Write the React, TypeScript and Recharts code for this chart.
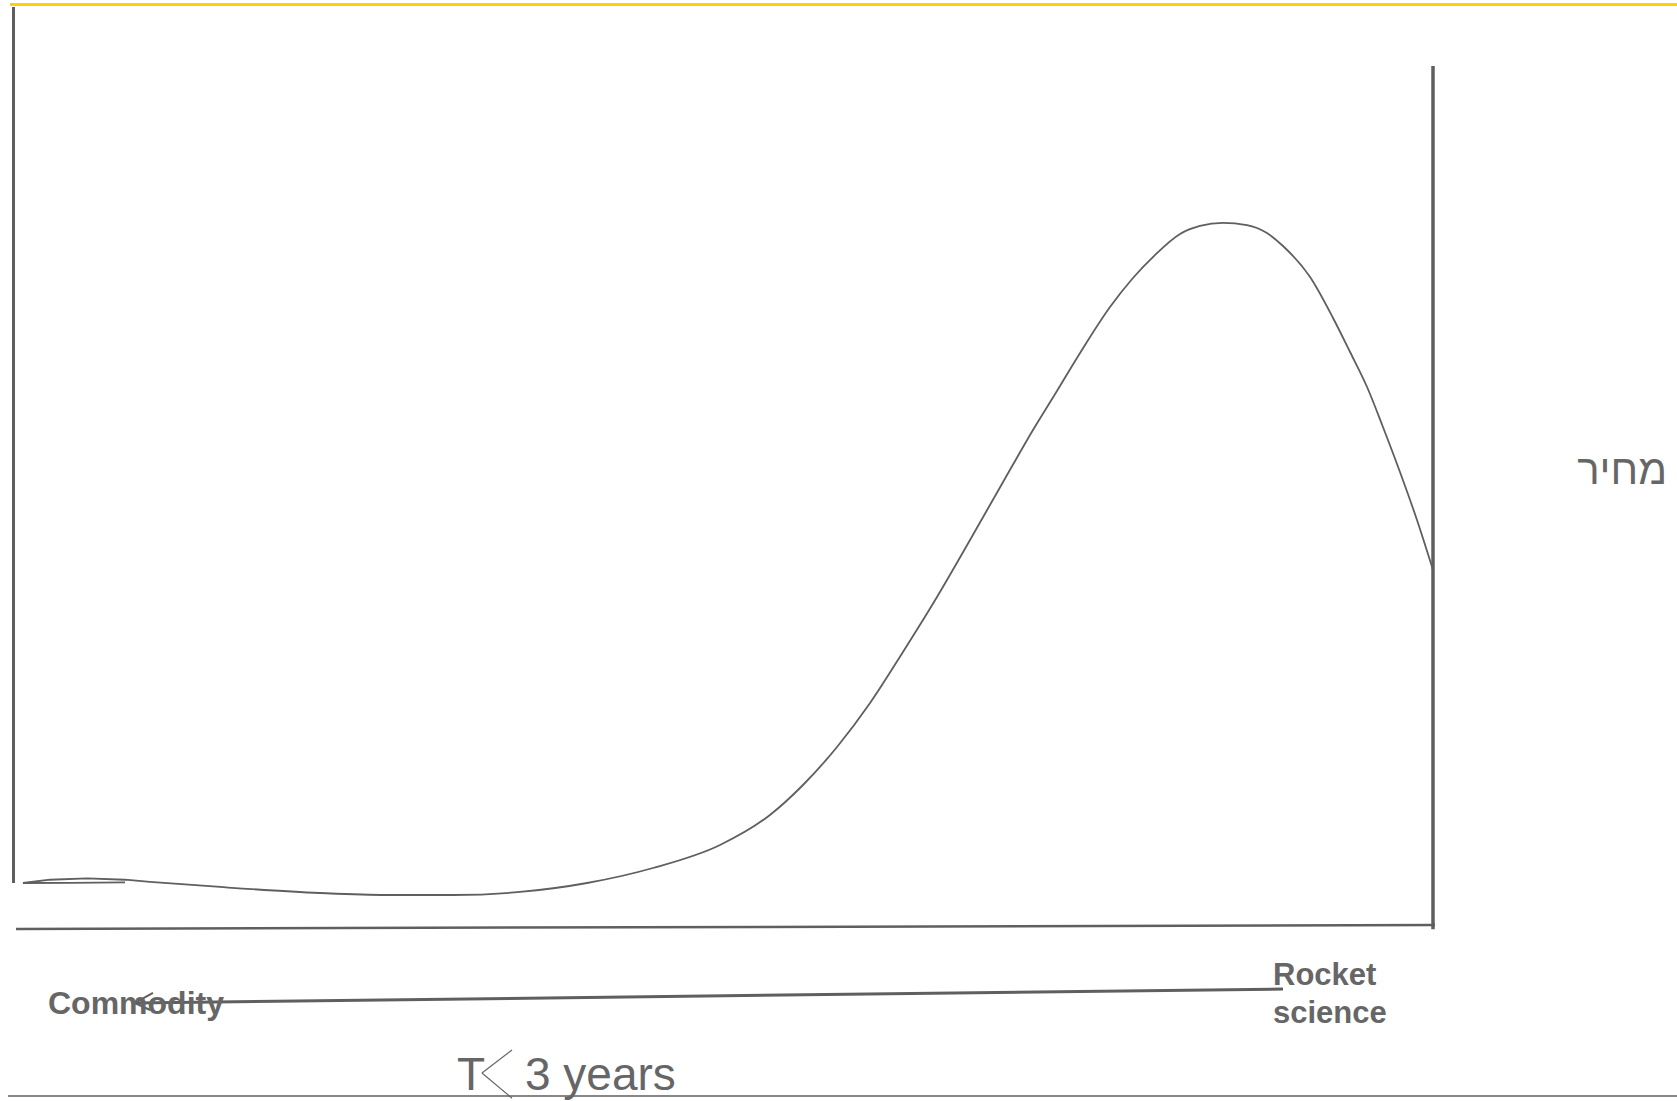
import React from "react";
import { LineChart, Line, XAxis, YAxis, ReferenceLine } from "recharts";

// Curve: position along the "Commodity → Rocket science" scale (0–100) and price (0–100)
const curveX = [
  9.45, 14.39, 21.44, 26.16, 30.82, 35.54, 40.27, 44.92, 49.65, 53.17, 55.5, 57.9,
  60.23, 62.55, 64.95, 67.28, 69.61, 71.72, 73.41, 75.04, 77.15, 78.77, 80.32, 82.09,
  83.5, 85.12, 86.81, 88.22, 89.35, 91.26, 92.88, 94.08, 95.28, 96.4, 97.6, 98.8, 99.93,
];
const curvePrice = [
  5.36, 4.76, 4.06, 3.83, 3.83, 4.18, 5.22, 6.96, 9.63, 13.11, 16.59, 21.0,
  26.1, 32.02, 38.4, 45.01, 51.74, 57.77, 62.3, 66.71, 72.04, 75.41, 78.07, 80.51,
  81.44, 81.79, 81.55, 80.63, 79.12, 75.52, 70.77, 66.82, 62.76, 58.12, 52.9, 47.33, 41.53,
];

// Small hand-drawn loop at the start of the curve
const loopX = [7.69, 3.81, 0.49, 2.4, 5.01, 7.69, 9.45];
const loopPrice = [5.29, 5.24, 5.22, 5.6, 5.76, 5.6, 5.36];

// Texts
const labelLeft = "Commodity";
const labelRight = ["Rocket", "science"];
const labelTime = ["T", "3 years"];
const labelPrice = "מחיר";

const curveData = curveX.map((x, i) => ({ x, y: curvePrice[i] }));
const loopData = loopX.map((x, i) => ({ x, y: loopPrice[i] }));

const GRAY = "#5f5f5f";
const TEXT = "#666666";
const GOLD = "#FFD200";

type Seg = { a: [number, number]; b: [number, number]; w: number; c: string };
const frame: Seg[] = [
  { a: [-0.423, 107.13], b: [117.14, 107.13], w: 3, c: GOLD },
  { a: [-0.176, 106.84], b: [-0.176, 5.22], w: 3, c: GRAY },
  { a: [99.93, 100.0], b: [99.93, -0.15], w: 3.5, c: GRAY },
  { a: [0, -0.116], b: [100.07, 0.348], w: 2.5, c: GRAY },
  { a: [8.39, -8.7], b: [89.35, -7.08], w: 3, c: GRAY },
  { a: [8.39, -8.7], b: [9.66, -7.54], w: 2, c: GRAY },
  { a: [8.39, -8.7], b: [9.45, -9.51], w: 2, c: GRAY },
  { a: [-0.564, -19.49], b: [117.14, -19.49], w: 1.5, c: GRAY },
  { a: [34.98, -14.15], b: [32.86, -16.82], w: 1.2, c: TEXT },
  { a: [32.86, -16.82], b: [34.98, -19.75], w: 1.2, c: TEXT },
];

export default function App() {
  return (
    <div style={{ position: "absolute", left: 0, top: 0, width: 1677, height: 1101, background: "#fff" }}>
      <LineChart
        width={1677}
        height={1101}
        margin={{ top: 66, right: 243, bottom: 173, left: 16 }}
      >
        <XAxis dataKey="x" type="number" domain={[0, 100]} hide allowDataOverflow />
        <YAxis type="number" domain={[0, 100]} hide allowDataOverflow />
        {frame.map((s, i) => (
          <ReferenceLine
            key={i}
            segment={[
              { x: s.a[0], y: s.a[1] },
              { x: s.b[0], y: s.b[1] },
            ]}
            stroke={s.c}
            strokeWidth={s.w}
            ifOverflow="visible"
          />
        ))}
        <Line
          data={loopData}
          dataKey="y"
          type="linear"
          stroke={GRAY}
          strokeWidth={1.8}
          dot={false}
          activeDot={false}
          isAnimationActive={false}
        />
        <Line
          data={curveData}
          dataKey="y"
          type="monotone"
          stroke={GRAY}
          strokeWidth={1.8}
          dot={false}
          activeDot={false}
          isAnimationActive={false}
        />
      </LineChart>
      <svg
        width={1677}
        height={1101}
        style={{ position: "absolute", left: 0, top: 0, pointerEvents: "none" }}
      >
        <g fontFamily="'Liberation Sans', Arial, sans-serif" fill={TEXT}>
          <text x={48} y={1014} fontSize={32} fontWeight="bold">{labelLeft}</text>
          <text x={1273} y={985} fontSize={31} fontWeight="bold">{labelRight[0]}</text>
          <text x={1273} y={1023} fontSize={31} fontWeight="bold">{labelRight[1]}</text>
          <text x={457} y={1090} fontSize={46}>{labelTime[0]}</text>
          <text x={525} y={1090} fontSize={46}>{labelTime[1]}</text>
          <text x={1667} y={484} fontSize={42} textAnchor="end">{labelPrice}</text>
        </g>
      </svg>
    </div>
  );
}
